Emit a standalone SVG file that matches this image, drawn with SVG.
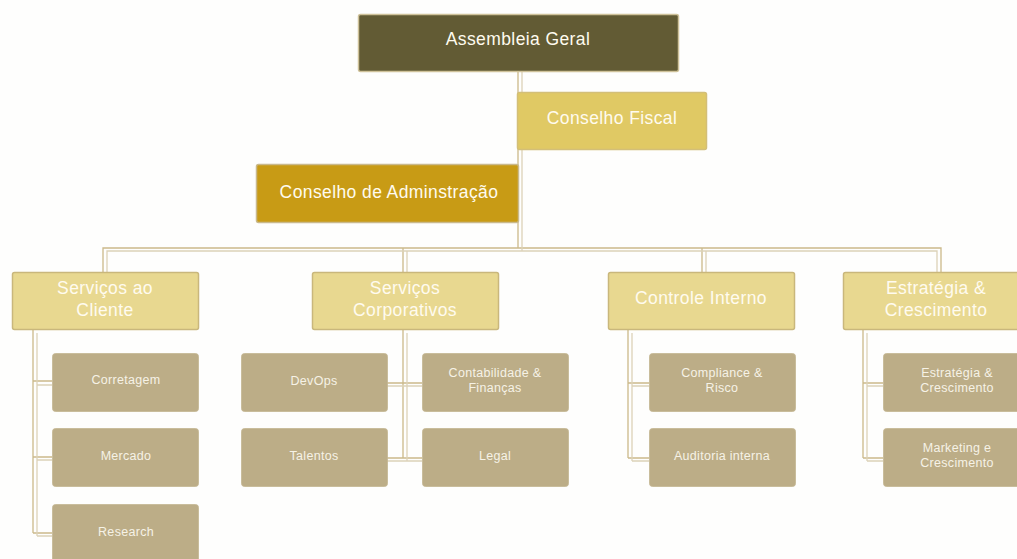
<svg xmlns="http://www.w3.org/2000/svg" width="1017" height="559" viewBox="0 0 1017 559">
<style>
text{font-family:"Liberation Sans",Arial,sans-serif;text-anchor:middle}
.t1{font-size:17.5px;letter-spacing:0.4px;fill:#fffbef}
.t3{font-size:12.5px;letter-spacing:0.3px;fill:#f6f2e6}
.ca{fill:none;stroke:#cbb98a;stroke-width:1.3}
.cb{fill:none;stroke:#dcd2b8;stroke-width:1.3}
.l2{fill:#e8d890;stroke:#c9b77c;stroke-width:1.5}
.l3{fill:#bcad87;stroke:#c4b692;stroke-width:0.8}
</style>
<rect width="1017" height="559" fill="#fefefd"/>
<g id="connectors">
<path class="ca" d="M518 71V248M103 272V248H941V272M403 248V272M702 248V272"/>
<path class="cb" d="M522 71V251M107 272V251H937V272M407 251V272M706 251V272"/>
<path class="ca" d="M33 329V533M33 381H52M33 457H52M33 533H52"/>
<path class="cb" d="M37 333V536M37 385H52M37 460H52M37 536H52"/>
<path class="ca" d="M403 329V458M387 383H422M387 458H422"/>
<path class="cb" d="M407 333V461M387 386H422M387 461H422"/>
<path class="ca" d="M628 329V458M628 383H649M628 458H649"/>
<path class="cb" d="M632 333V461M632 386H649M632 461H649"/>
<path class="ca" d="M863 329V458M863 383H883M863 458H883"/>
<path class="cb" d="M867 333V461M867 386H883M867 461H883"/>
</g>
<g id="assembleia">
<rect x="358.5" y="14.5" width="320" height="57" rx="2" fill="#625b34" stroke="#cfc29a" stroke-width="1.5"/>
<text class="t1" x="518" y="45">Assembleia Geral</text>
</g>
<g id="fiscal">
<rect x="517.5" y="92.5" width="189" height="57" rx="2" fill="#e0c964" stroke="#d3bf78" stroke-width="1.5"/>
<text class="t1" x="612" y="124">Conselho Fiscal</text>
</g>
<g id="administracao">
<rect x="256.5" y="164.5" width="262" height="58" rx="2" fill="#c89b15" stroke="#c9b98c" stroke-width="1.5"/>
<text class="t1" x="389" y="198">Conselho de Adminstração</text>
</g>
<g id="cliente">
<rect class="l2" x="12.5" y="272.5" width="186" height="57" rx="2"/>
<text class="t1" x="105" y="294">Serviços ao</text>
<text class="t1" x="105" y="316">Cliente</text>
</g>
<g id="corporativos">
<rect class="l2" x="312.5" y="272.5" width="186" height="57" rx="2"/>
<text class="t1" x="405" y="294">Serviços</text>
<text class="t1" x="405" y="316">Corporativos</text>
</g>
<g id="controle">
<rect class="l2" x="608.5" y="272.5" width="186" height="57" rx="2"/>
<text class="t1" x="701" y="304">Controle Interno</text>
</g>
<g id="estrategia">
<rect class="l2" x="843.5" y="272.5" width="186" height="57" rx="2"/>
<text class="t1" x="936" y="294">Estratégia &amp;</text>
<text class="t1" x="936" y="316">Crescimento</text>
</g>
<g id="corretagem">
<rect class="l3" x="52.5" y="353.5" width="146" height="58" rx="3"/>
<text class="t3" x="126" y="384">Corretagem</text>
</g>
<g id="mercado">
<rect class="l3" x="52.5" y="428.5" width="146" height="58" rx="3"/>
<text class="t3" x="126" y="460">Mercado</text>
</g>
<g id="research">
<rect class="l3" x="52.5" y="504.5" width="146" height="60" rx="3"/>
<text class="t3" x="126" y="536">Research</text>
</g>
<g id="devops">
<rect class="l3" x="241.5" y="353.5" width="146" height="58" rx="3"/>
<text class="t3" x="314" y="385">DevOps</text>
</g>
<g id="talentos">
<rect class="l3" x="241.5" y="428.5" width="146" height="58" rx="3"/>
<text class="t3" x="314" y="460">Talentos</text>
</g>
<g id="contabilidade">
<rect class="l3" x="422.5" y="353.5" width="146" height="58" rx="3"/>
<text class="t3" x="495" y="377">Contabilidade &amp;</text>
<text class="t3" x="495" y="392">Finanças</text>
</g>
<g id="legal">
<rect class="l3" x="422.5" y="428.5" width="146" height="58" rx="3"/>
<text class="t3" x="495" y="460">Legal</text>
</g>
<g id="compliance">
<rect class="l3" x="649.5" y="353.5" width="146" height="58" rx="3"/>
<text class="t3" x="722" y="377">Compliance &amp;</text>
<text class="t3" x="722" y="392">Risco</text>
</g>
<g id="auditoria">
<rect class="l3" x="649.5" y="428.5" width="146" height="58" rx="3"/>
<text class="t3" x="722" y="460">Auditoria interna</text>
</g>
<g id="estrategia-sub">
<rect class="l3" x="883.5" y="353.5" width="146" height="58" rx="3"/>
<text class="t3" x="957" y="377">Estratégia &amp;</text>
<text class="t3" x="957" y="392">Crescimento</text>
</g>
<g id="marketing">
<rect class="l3" x="883.5" y="428.5" width="146" height="58" rx="3"/>
<text class="t3" x="957" y="452">Marketing e</text>
<text class="t3" x="957" y="467">Crescimento</text>
</g>
</svg>
